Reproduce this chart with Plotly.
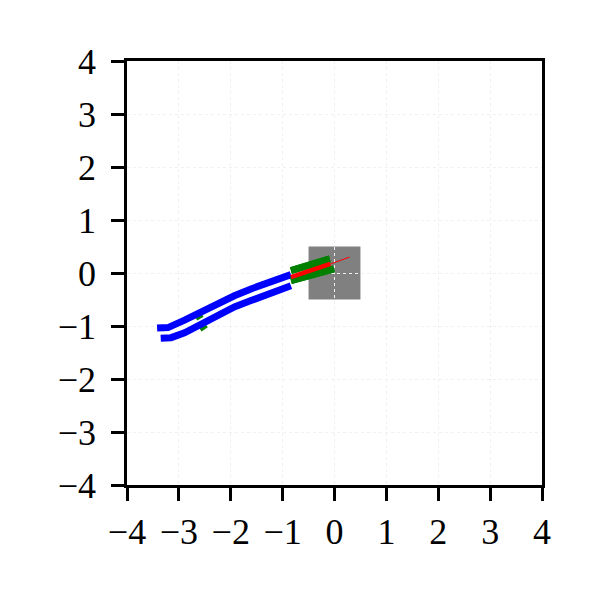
import plotly.graph_objects as go

# Lane boundaries (blue)
upper_x = [-3.42, -3.21, -2.89, -2.57, -2.25, -1.93, -1.61, -1.29, -0.84]
upper_y = [-1.04, -1.03, -0.89, -0.73, -0.57, -0.43, -0.30, -0.19, -0.03]
lower_x = [-3.35, -3.15, -2.89, -2.57, -2.25, -1.93, -1.61, -1.29, -0.84]
lower_y = [-1.23, -1.22, -1.13, -0.96, -0.79, -0.64, -0.52, -0.40, -0.24]

# Green lane segments
green_segments = [
    ([-0.84, -0.09], [0.045, 0.265]),
    ([-0.84, -0.01], [-0.145, 0.08]),
    ([-2.68, -2.56], [-0.84, -0.77]),
    ([-2.60, -2.48], [-1.05, -0.97]),
]

# Red heading (thick part, thin part)
red_thick_x = [-0.84, -0.08]
red_thick_y = [-0.08, 0.17]
red_thin_x = [-0.08, 0.29]
red_thin_y = [0.17, 0.30]

# Ego box corners
box_x = [-0.5, 0.5]
box_y = [-0.5, 0.5]

ticks = [-4, -3, -2, -1, 0, 1, 2, 3, 4]

fig = go.Figure()

for gx, gy in green_segments:
    fig.add_trace(go.Scatter(x=gx, y=gy, mode="lines",
                             line=dict(color="#008000", width=7),
                             hoverinfo="skip", showlegend=False))

fig.add_trace(go.Scatter(x=upper_x, y=upper_y, mode="lines",
                         line=dict(color="#0000ff", width=7), showlegend=False))
fig.add_trace(go.Scatter(x=lower_x, y=lower_y, mode="lines",
                         line=dict(color="#0000ff", width=7), showlegend=False))

for gx, gy in green_segments[:2]:
    fig.add_trace(go.Scatter(x=gx, y=gy, mode="lines",
                             line=dict(color="#008000", width=7),
                             hoverinfo="skip", showlegend=False))

fig.add_trace(go.Scatter(x=red_thick_x, y=red_thick_y, mode="lines",
                         line=dict(color="#ff0000", width=4.5), showlegend=False))
fig.add_trace(go.Scatter(x=red_thin_x, y=red_thin_y, mode="lines",
                         line=dict(color="#ff0000", width=1), showlegend=False))

fig.add_shape(type="rect", x0=box_x[0], x1=box_x[1], y0=box_y[0], y1=box_y[1],
              fillcolor="#808080", line=dict(width=0), layer="below")

axis_common = dict(
    range=[-4, 4], tickvals=ticks, ticktext=[("\u2212" + str(-t)) if t < 0 else str(t) for t in ticks],
    showline=True, linecolor="black", linewidth=2.5, mirror=True,
    ticks="outside", ticklen=13, tickwidth=2.5, tickcolor="black",
    showgrid=True, gridcolor="#f0f0f0", griddash="dot", gridwidth=1,
    zeroline=False,
    tickfont=dict(family="Liberation Serif", size=36, color="black"),
)

fig.update_layout(
    width=598, height=598,
    margin=dict(l=119, r=64, t=53, b=121),
    paper_bgcolor="white", plot_bgcolor="white",
    xaxis=dict(**axis_common, ticklabelstandoff=0),
    yaxis=dict(**axis_common, ticklabelstandoff=8),
    showlegend=False,
)

fig.write_html("out.html")
